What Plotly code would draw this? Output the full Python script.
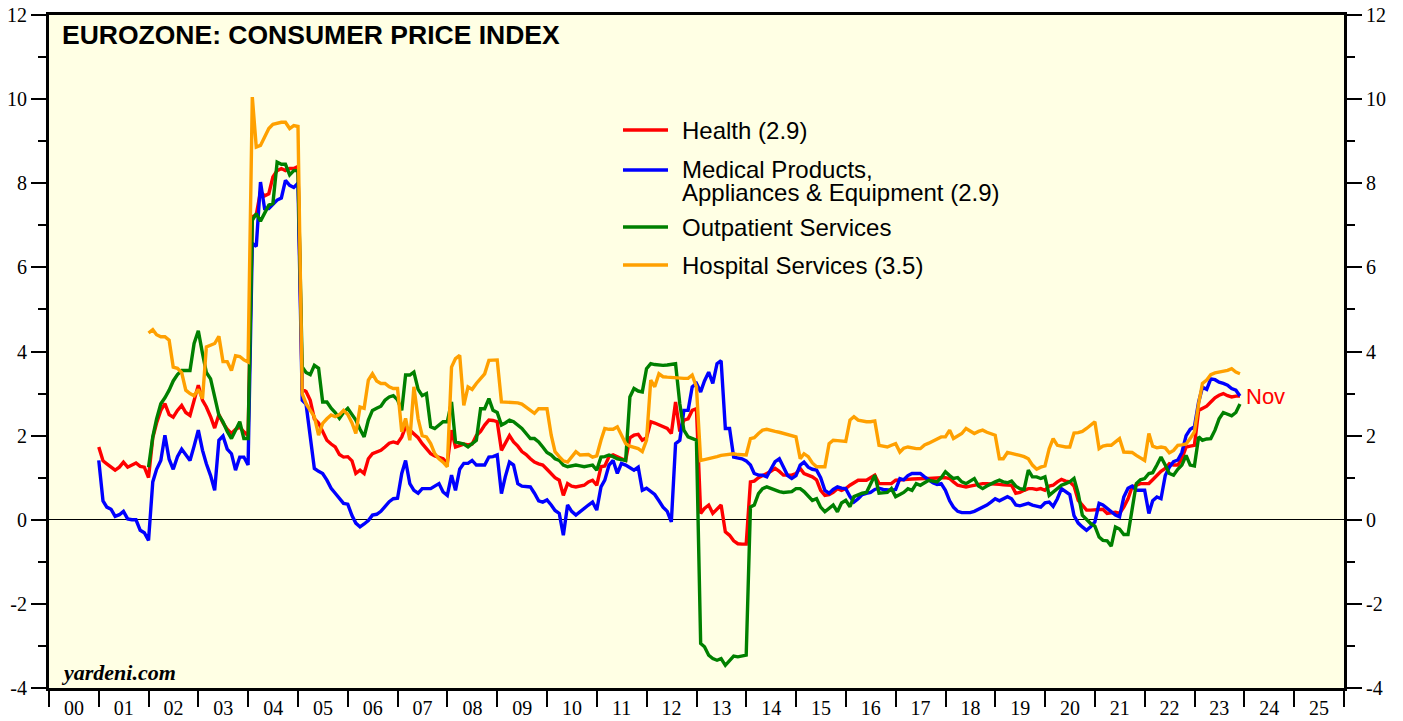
import pandas as pd
import plotly.graph_objects as go

# ---------------- data (monthly, % y/y) ----------------
health_start = "2000-12-31"
health = [
    1.73,
    1.40, 1.33, 1.25, 1.18, 1.25, 1.37, 1.25, 1.30, 1.35, 1.27, 1.25, 1.00,   # 2001
    1.95, 2.30, 2.60, 2.76, 2.50, 2.44, 2.60, 2.72, 2.55, 2.48, 2.85, 3.20,   # 2002
    2.84, 2.68, 2.45, 2.18, 2.50, 2.30, 2.15, 2.05, 2.15, 2.20, 2.09, 2.00,   # 2003
    7.20, 7.25, 7.80, 7.70, 7.75, 8.15, 8.30, 8.35, 8.30, 8.35, 8.35, 8.40,   # 2004
    3.10, 3.05, 2.84, 2.40, 2.30, 2.10, 1.89, 1.80, 1.73, 1.55, 1.49, 1.50,   # 2005
    1.40, 1.10, 1.18, 1.10, 1.45, 1.57, 1.62, 1.65, 1.73, 1.82, 1.85, 1.82,   # 2006
    1.97, 2.21, 2.13, 2.05, 1.95, 1.81, 1.70, 1.57, 1.52, 1.49, 1.45, 1.34,   # 2007
    2.13, 1.73, 1.76, 1.80, 1.78, 1.80, 2.00, 2.10, 2.25, 2.37, 2.36, 2.33,   # 2008
    1.65, 1.81, 2.00, 1.85, 1.75, 1.62, 1.55, 1.45, 1.37, 1.33, 1.30, 1.20,   # 2009
    1.10, 1.00, 0.94, 0.58, 0.86, 0.80, 0.78, 0.80, 0.82, 0.90, 0.94, 0.82,   # 2010
    1.26, 1.28, 1.50, 1.54, 1.50, 1.45, 1.41, 1.95, 2.01, 2.03, 1.89, 1.95,   # 2011
    2.33, 2.30, 2.25, 2.20, 2.17, 2.05, 2.80, 2.10, 2.37, 2.40, 2.60, 2.64,   # 2012
    0.15, 0.27, 0.35, 0.15, 0.25, 0.35, -0.29, -0.37, -0.50, -0.57, -0.58, -0.58,  # 2013
    0.90, 0.92, 1.00, 1.06, 1.10, 1.15, 1.22, 1.15, 1.06, 1.06, 1.06, 1.10,   # 2014
    1.22, 1.10, 1.06, 1.02, 0.95, 0.70, 0.58, 0.60, 0.65, 0.74, 0.70, 0.74,   # 2015
    0.82, 0.88, 0.94, 0.94, 0.94, 1.00, 1.06, 0.86, 0.86, 0.86, 0.86, 0.94,   # 2016
    0.94, 0.95, 0.96, 0.97, 0.98, 0.98, 0.98, 0.98, 0.99, 1.00, 1.00, 1.00,   # 2017
    0.98, 0.90, 0.82, 0.80, 0.78, 0.80, 0.82, 0.86, 0.86, 0.86, 0.86, 0.86,   # 2018
    0.84, 0.83, 0.82, 0.82, 0.63, 0.65, 0.70, 0.74, 0.74, 0.72, 0.74, 0.70,   # 2019
    0.80, 0.82, 0.90, 0.96, 0.92, 0.90, 0.80, 0.46, 0.35, 0.23, 0.23, 0.23,   # 2020
    0.24, 0.25, 0.15, 0.17, 0.18, 0.15, 0.30, 0.50, 0.78, 0.82, 0.86, 0.86,   # 2021
    0.86, 0.95, 1.06, 1.15, 1.22, 1.33, 1.30, 1.30, 1.45, 1.73, 1.75, 1.77,   # 2022
    2.60, 2.65, 2.70, 2.80, 2.90, 2.96, 3.00, 2.95, 2.92, 2.94, 2.94,         # 2023
]

medical_start = "2000-12-31"
medical = [
    1.41,
    0.45, 0.30, 0.25, 0.08, 0.12, 0.20, 0.02, 0.00, 0.00, -0.25, -0.31, -0.49,  # 2001
    0.90, 1.20, 1.41, 2.01, 1.44, 1.20, 1.50, 1.68, 1.55, 1.41, 1.75, 2.13,   # 2002
    1.65, 1.33, 1.05, 0.70, 1.89, 1.99, 1.68, 1.57, 1.18, 1.49, 1.49, 1.30,   # 2003
    6.57, 6.50, 8.03, 7.40, 7.40, 7.50, 7.60, 7.65, 8.07, 7.95, 7.90, 8.00,   # 2004
    2.84, 2.75, 2.00, 1.22, 1.15, 1.10, 0.94, 0.75, 0.63, 0.50, 0.39, 0.37,   # 2005
    0.10, -0.08, -0.17, -0.10, -0.02, 0.11, 0.13, 0.20, 0.30, 0.43, 0.50, 0.51,  # 2006
    1.10, 1.41, 0.86, 0.70, 0.63, 0.74, 0.74, 0.74, 0.80, 0.86, 0.66, 0.58,   # 2007
    1.06, 0.70, 1.20, 1.34, 1.34, 1.41, 1.30, 1.30, 1.30, 1.49, 1.50, 1.54,   # 2008
    0.62, 1.02, 1.37, 1.30, 0.86, 0.80, 0.78, 0.78, 0.63, 0.45, 0.42, 0.47,   # 2009
    0.35, 0.22, 0.15, -0.37, 0.35, 0.20, 0.11, 0.20, 0.27, 0.35, 0.42, 0.23,  # 2010
    0.78, 0.94, 1.30, 1.41, 1.10, 1.34, 1.30, 1.25, 1.18, 1.25, 0.70, 0.75,   # 2011
    0.66, 0.60, 0.45, 0.30, 0.20, -0.05, 1.81, 1.89, 2.60, 2.60, 3.16, 3.24,  # 2012
    3.04, 3.30, 3.51, 3.24, 3.71, 3.78, 2.17, 2.17, 1.49, 1.47, 1.45, 1.40,   # 2013
    1.30, 1.10, 1.06, 1.06, 1.02, 1.20, 1.38, 1.45, 1.25, 1.05, 0.98, 1.05,   # 2014
    1.30, 1.37, 1.25, 1.20, 1.18, 1.00, 0.70, 0.63, 0.72, 0.78, 0.75, 0.74,   # 2015
    0.55, 0.42, 0.50, 0.60, 0.63, 0.65, 0.72, 0.75, 0.72, 0.70, 0.70, 0.72,   # 2016
    0.98, 0.95, 1.05, 1.10, 1.10, 1.10, 1.02, 0.95, 0.88, 0.84, 0.86, 0.70,   # 2017
    0.45, 0.30, 0.20, 0.17, 0.17, 0.17, 0.20, 0.25, 0.30, 0.35, 0.42, 0.50,   # 2018
    0.45, 0.50, 0.55, 0.50, 0.35, 0.33, 0.36, 0.39, 0.35, 0.32, 0.30, 0.40,   # 2019
    0.42, 0.32, 0.50, 0.74, 0.68, 0.60, 0.10, -0.08, -0.17, -0.25, -0.17, -0.05,  # 2020
    0.39, 0.35, 0.27, 0.20, 0.11, 0.07, 0.54, 0.75, 0.80, 0.70, 0.70, 0.70,   # 2021
    0.15, 0.45, 0.54, 0.50, 1.05, 1.25, 1.38, 1.42, 1.60, 2.00, 2.15, 2.21,   # 2022
    2.80, 3.15, 3.10, 3.35, 3.33, 3.27, 3.24, 3.20, 3.12, 3.08, 2.94,         # 2023
]

outpatient_start = "2001-12-31"
outpatient = [
    1.25,
    1.97, 2.40, 2.76, 2.90, 3.08, 3.30, 3.45, 3.55, 3.55, 3.55, 4.19, 4.49,   # 2002
    3.95, 3.50, 3.35, 2.90, 2.48, 2.33, 2.10, 1.93, 2.13, 2.33, 1.93, 1.93,   # 2003
    7.12, 7.28, 7.10, 7.30, 7.48, 7.52, 8.50, 8.45, 8.45, 8.20, 8.30, 8.30,   # 2004
    3.63, 3.50, 3.45, 3.67, 3.60, 2.80, 2.80, 2.65, 2.55, 2.41, 2.55, 2.65,   # 2005
    2.50, 2.37, 2.15, 1.97, 2.37, 2.60, 2.65, 2.70, 2.84, 2.92, 2.95, 2.85,   # 2006
    2.60, 3.44, 3.44, 3.51, 3.10, 2.95, 3.00, 2.21, 2.17, 2.25, 2.33, 2.33,   # 2007
    2.80, 1.85, 1.83, 1.80, 1.73, 1.80, 1.89, 2.64, 2.64, 2.88, 2.60, 2.55,   # 2008
    2.25, 2.30, 2.37, 2.33, 2.25, 2.17, 2.05, 1.93, 1.93, 1.85, 1.73, 1.60,   # 2009
    1.54, 1.45, 1.41, 1.30, 1.26, 1.28, 1.30, 1.28, 1.26, 1.28, 1.30, 1.18,   # 2010
    1.49, 1.50, 1.54, 1.50, 1.45, 1.43, 1.41, 2.92, 3.12, 3.06, 3.04, 3.59,   # 2011
    3.71, 3.69, 3.67, 3.67, 3.68, 3.70, 3.71, 2.76, 2.13, 1.97, 1.92, 1.89,   # 2012
    -2.94, -3.02, -3.22, -3.30, -3.34, -3.30, -3.46, -3.35, -3.24, -3.26, -3.25, -3.22,  # 2013
    0.30, 0.35, 0.62, 0.74, 0.78, 0.74, 0.70, 0.67, 0.65, 0.67, 0.67, 0.74,   # 2014
    0.74, 0.67, 0.55, 0.46, 0.50, 0.30, 0.19, 0.26, 0.35, 0.19, 0.40, 0.46,   # 2015
    0.31, 0.55, 0.60, 0.63, 0.65, 0.85, 1.06, 0.63, 0.64, 0.65, 0.74, 0.55,   # 2016
    0.60, 0.65, 0.74, 0.70, 0.86, 0.82, 0.88, 0.94, 0.92, 0.90, 1.00, 1.14,   # 2017
    1.05, 0.98, 1.00, 0.90, 0.86, 0.92, 0.98, 0.80, 0.74, 0.80, 0.86, 0.90,   # 2018
    0.94, 0.90, 0.88, 0.92, 0.80, 0.74, 0.72, 1.18, 1.02, 1.02, 0.98, 1.02,   # 2019
    0.58, 0.65, 0.74, 0.82, 0.86, 0.90, 0.98, 0.62, 0.11, 0.00, -0.09, -0.15,  # 2020
    -0.41, -0.49, -0.50, -0.63, -0.17, -0.22, -0.35, -0.35, 0.30, 0.86, 0.95, 0.98,  # 2021
    1.10, 1.12, 1.30, 1.49, 1.30, 1.10, 1.06, 1.20, 1.30, 1.53, 1.30, 1.28,   # 2022
    1.97, 1.89, 1.92, 1.93, 2.13, 2.40, 2.55, 2.50, 2.47, 2.55, 2.75,         # 2023
]

hospital_start = "2001-12-31"
hospital = [
    4.44,
    4.52, 4.40, 4.35, 4.35, 4.27, 3.63, 3.60, 3.50, 3.08, 3.00, 2.95, 3.10,   # 2002
    2.88, 4.11, 4.15, 4.19, 4.36, 3.76, 3.76, 3.55, 3.90, 3.88, 3.80, 3.75,   # 2003
    10.05, 8.86, 8.90, 9.10, 9.30, 9.40, 9.43, 9.45, 9.45, 9.30, 9.37, 9.35,  # 2004
    3.00, 2.76, 2.60, 2.45, 2.01, 2.29, 2.40, 2.49, 2.45, 2.50, 2.60, 2.50,   # 2005
    2.30, 2.05, 2.68, 2.65, 3.32, 3.47, 3.30, 3.24, 3.24, 3.16, 3.12, 3.12,   # 2006
    2.09, 2.41, 1.89, 3.16, 2.40, 2.00, 1.97, 1.81, 1.57, 1.45, 1.37, 1.26,   # 2007
    3.63, 3.83, 3.91, 2.72, 3.16, 3.10, 3.24, 3.35, 3.47, 3.79, 3.80, 3.80,   # 2008
    2.80, 2.80, 2.78, 2.78, 2.78, 2.75, 2.68, 2.60, 2.53, 2.64, 2.64, 2.64,   # 2009
    2.01, 1.62, 1.50, 1.40, 1.37, 1.50, 1.62, 1.54, 1.55, 1.55, 1.49, 1.52,   # 2010
    1.89, 2.17, 2.15, 2.15, 2.21, 2.00, 1.81, 1.75, 1.72, 1.69, 1.62, 1.89,   # 2011
    3.32, 3.16, 3.47, 3.40, 3.39, 3.38, 3.38, 3.37, 3.36, 3.36, 3.44, 3.16,   # 2012
    1.41, 1.43, 1.45, 1.47, 1.50, 1.53, 1.55, 1.57, 1.57, 1.55, 1.54, 1.54,   # 2013
    1.93, 1.95, 2.05, 2.13, 2.15, 2.12, 2.10, 2.08, 2.05, 2.02, 2.00, 1.97,   # 2014
    1.45, 1.57, 1.50, 1.35, 1.26, 1.26, 1.26, 1.81, 1.89, 1.88, 1.87, 1.86,   # 2015
    2.37, 2.45, 2.37, 2.35, 2.33, 2.33, 2.35, 1.77, 1.75, 1.73, 1.77, 1.81,   # 2016
    1.61, 1.70, 1.73, 1.70, 1.69, 1.69, 1.78, 1.82, 1.87, 1.93, 1.97, 1.97,   # 2017
    2.13, 1.93, 2.00, 2.05, 2.17, 2.12, 2.05, 2.10, 2.13, 2.08, 2.05, 2.01,   # 2018
    1.45, 1.45, 1.60, 1.58, 1.57, 1.53, 1.50, 1.45, 1.30, 1.20, 1.25, 1.28,   # 2019
    1.69, 1.93, 1.77, 1.74, 1.73, 1.73, 2.06, 2.07, 2.10, 2.17, 2.25, 2.33,   # 2020
    1.69, 1.75, 1.77, 1.77, 1.85, 1.93, 1.61, 1.61, 1.60, 1.53, 1.48, 1.41,   # 2021
    2.05, 1.75, 1.71, 1.73, 1.71, 1.59, 1.65, 1.77, 1.78, 1.80, 1.93, 2.09,   # 2022
    2.76, 3.24, 3.32, 3.45, 3.49, 3.51, 3.51, 3.55, 3.59, 3.51, 3.47,         # 2023
]

year_labels = [f"{y % 100:02d}" for y in range(2000, 2026)]
y_tick_vals = list(range(-4, 13, 2))
y_tick_text = [str(v) for v in y_tick_vals]
legend_labels = ["Health (2.9)", "Medical Products, Appliances & Equipment (2.9)",
                 "Outpatient Services", "Hospital Services (3.5)"]
series_colors = ["#FF0000", "#0000FF", "#008000", "#FFA000"]

# ---------------- figure ----------------
W, H = 1403, 721
ML, MR, MT, MB = 49, 59, 15, 33
PW, PH = W - ML - MR, H - MT - MB


def px(xp):
    return (xp - ML) / PW


def py(yp):
    return 1 - (yp - MT) / PH


fig = go.Figure()
series = [(health_start, health), (medical_start, medical),
          (outpatient_start, outpatient), (hospital_start, hospital)]
for (start, vals), name, col in zip(series, legend_labels, series_colors):
    dates = pd.date_range(start, periods=len(vals), freq="ME")
    fig.add_trace(go.Scatter(x=dates, y=vals, mode="lines", name=name,
                             line=dict(color=col, width=3.4), showlegend=False,
                             hoverinfo="skip"))

# invisible copy on the secondary axes so that the right-hand and
# year-label axes are rendered
fig.add_trace(go.Scatter(x=pd.date_range(health_start, periods=len(health), freq="ME"),
                         y=health, xaxis="x2", yaxis="y2", mode="lines",
                         line=dict(width=0, color="rgba(0,0,0,0)"), opacity=0,
                         showlegend=False, hoverinfo="skip"))

serif = "Liberation Serif, Times New Roman, serif"
sans = "Liberation Sans, Arial, sans-serif"
xr = ["2000-01-01", "2026-01-01"]
year_bounds = [f"{y}-01-01" for y in range(2000, 2027)]
year_mids = [f"{y}-07-02" for y in range(2000, 2026)]

yaxis_common = dict(range=[-4, 12], tickmode="array", tickvals=y_tick_vals,
                    ticktext=y_tick_text,
                    ticks="outside", ticklen=15, tickwidth=2, tickcolor="black",
                    minor=dict(tickmode="linear", dtick=1, ticks="outside", ticklen=8,
                               tickwidth=2, tickcolor="black", showgrid=False),
                    showgrid=False, showline=True, linewidth=3, linecolor="black",
                    tickfont=dict(family=serif, size=20, color="black"),
                    fixedrange=True)

fig.update_layout(
    width=W, height=H,
    margin=dict(l=ML, r=MR, t=MT, b=MB, autoexpand=False),
    paper_bgcolor="white", plot_bgcolor="#FFFFE4",
    xaxis=dict(type="date", range=xr, tickmode="array", tickvals=year_bounds,
               showticklabels=False, ticks="outside", ticklen=16, tickwidth=2,
               tickcolor="black", showgrid=False, showline=True, linewidth=3,
               linecolor="black", mirror=True, zeroline=False, fixedrange=True),
    xaxis2=dict(type="date", range=xr, overlaying="x", anchor="y", side="bottom",
                tickmode="array", tickvals=year_mids, ticktext=year_labels,
                ticks="", ticklabelstandoff=6,
                showgrid=False, showline=False, zeroline=False, fixedrange=True,
                tickfont=dict(family=serif, size=20, color="black")),
    yaxis=dict(**yaxis_common, side="left", zeroline=True, zerolinecolor="black",
               zerolinewidth=1),
    yaxis2=dict(**yaxis_common, side="right", overlaying="y", anchor="x",
                zeroline=False),
    showlegend=False,
)

# legend drawn as shapes + text
leg_y = [130, 170, 227, 265]
for yy, col in zip(leg_y, series_colors):
    fig.add_shape(type="line", xref="paper", yref="paper",
                  x0=px(623), x1=px(668), y0=py(yy), y1=py(yy),
                  line=dict(color=col, width=3.4))
leg_lines = [("Health (2.9)", 130), ("Medical Products,", 170),
             ("Appliances & Equipment (2.9)", 193), ("Outpatient Services", 227),
             ("Hospital Services (3.5)", 265)]
for txt, yy in leg_lines:
    fig.add_annotation(text=txt, xref="paper", yref="paper", x=px(680), y=py(yy),
                       xanchor="left", yanchor="middle", showarrow=False,
                       font=dict(family=sans, size=24, color="black"))

fig.add_annotation(text="<b>EUROZONE: CONSUMER PRICE INDEX</b>", xref="paper",
                   yref="paper", x=px(60), y=py(35), xanchor="left",
                   yanchor="middle", showarrow=False,
                   font=dict(family=sans, size=26.5, color="black"))
fig.add_annotation(text="<b><i>yardeni.com</i></b>", xref="paper", yref="paper",
                   x=px(59), y=py(672), xanchor="left", yanchor="middle",
                   showarrow=False, font=dict(family=serif, size=22, color="black"))
fig.add_annotation(text="Nov", xref="paper", yref="paper", x=px(1244), y=py(396),
                   xanchor="left", yanchor="middle", showarrow=False,
                   font=dict(family=sans, size=22, color="#FF0000"))

fig.write_html("out.html", config={"displayModeBar": False},
               post_script="document.body.style.margin='0';")
